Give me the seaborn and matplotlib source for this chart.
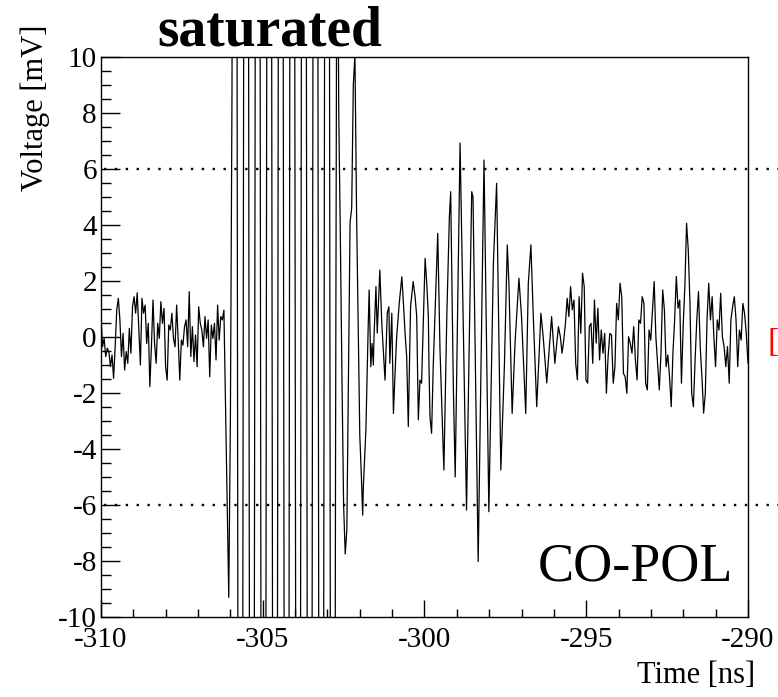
import numpy as np
import pandas as pd
import matplotlib
matplotlib.use("Agg")
import matplotlib.pyplot as plt
import seaborn as sns
from matplotlib.ticker import MultipleLocator, FuncFormatter

# --- waveform (mV) ---
# quiet baseline before the pulse, -310 .. -306.2 ns
pre_span = (-310.0, -306.2)
pre_mv = [0.73, -0.35, -0.05, -0.70, -0.40, -0.52, -1.06, -0.64, -1.48, -0.35,
          0.96, 1.38, 0.61, -0.70, 0.13, -1.18, -0.52, -0.94, 0.31, -0.58,
          1.08, 1.44, 0.85, 1.58, 0.25, -1.00, 1.38, 0.85, 1.14, -0.23,
          0.49, -1.77, -0.35, 1.32, -0.23, -0.94, 0.49, -0.05, 1.26, 0.49,
          1.02, -1.06, -1.54, 0.43, 0.25, 0.85, -0.05, -0.35, 1.14, -0.11,
          -1.54, -0.11, -0.29, 0.37, 0.61, -0.35, 1.62, -0.70, 0.37, -0.88,
          0.07, -1.06, 1.08, 0.49, 0.25, -0.35, 0.73, -0.05, 0.61, -1.42,
          0.43, -0.05, 0.49, -0.82, 1.14, -0.11, 0.73, 0.61, 0.96]

# saturated burst, -306.15 .. -302.00 ns (0.05 ns samples)
burst_span = (-306.15, -302.00)
burst_mv = [-2.4, -5.8, -9.3, -3.0, 8.8, 43.5, 46.7, 16.1, -26.1, -49.5,
            -36.8, 2.5, 40.0, 48.7, 21.7, -20.9, -48.4, -40.6, -3.7, 36.4,
            49.7, 26.8, -15.2, -46.3, -43.8, -9.7, 31.9, 50.0, 32.2, -9.0,
            -43.5, -46.6, -15.7, 26.9, 49.0, 36.9, -2.9, -40.1, -48.7, -21.6,
            21.0, 48.4, 40.6, 3.8, -36.3, -49.7, -26.8, 15.1, 46.2, 43.9,
            9.8, -31.8, -49.9, -32.3, 8.9, 43.5, 46.7, 15.9, -26.7, -49.0,
            -37.0, 1.8, 39.5, 48.8, 22.7, -19.8, -48.1, -41.3, -4.7, 20.0,
            8.0, 3.5, -1.5, -6.0, -7.75, -6.9, -1.5, 4.1, 4.6, 9.0,
            10.1, 4.5, 0.5, -3.5]

# ringing after the burst
ring_ns = [-301.95, -301.91, -301.89, -301.81, -301.74, -301.71, -301.66, -301.62,
           -301.58, -301.56, -301.50, -301.46, -301.38, -301.32, -301.22, -301.15,
           -301.10, -301.07, -301.01, -300.96, -300.91, -300.86, -300.78, -300.70,
           -300.65, -300.60, -300.55, -300.50, -300.43, -300.35, -300.29, -300.24,
           -300.19, -300.14, -300.09, -299.98, -299.93, -299.88, -299.86, -299.83,
           -299.78, -299.73, -299.64, -299.59, -299.52, -299.40, -299.31, -299.23,
           -299.19, -299.17, -299.11, -299.05, -298.90, -298.70, -298.54, -298.50,
           -298.34, -298.16, -298.01, -297.87, -297.77, -297.64, -297.53, -297.44,
           -297.39, -297.29, -297.20, -297.08, -297.00, -296.87, -296.79, -296.71,
           -296.64, -296.53, -296.40, -296.33, -296.22, -296.07, -295.97, -295.86]
ring_mv = [-5.0, -6.36, -5.35, -3.3, 0.37, 1.68, -1.06, -0.23,
           -1.0, 0.01, 1.80, 0.14, 2.39, 0.5, -1.54, 0.85,
           1.08, -0.94, 0.85, -2.73, -1.3, 0.0, 1.2, 2.15,
           1.2, 0.13, -0.7, -3.2, 1.08, 1.98, 1.44, 0.73,
           -2.96, -1.54, -1.65, 2.81, 1.92, 0.73, -1.06, -2.85,
           -3.44, -1.06, 2.03, 3.70, -0.46, -4.75, 0.73, 4.30,
           5.19, 3.46, -1.65, -5.0, 6.93, -6.18, 5.19, 5.0,
           -8.02, 6.32, -6.24, 2.63, 5.49, -4.75, -1.06, 3.29,
           1.92, -2.73, -0.2, 2.10, 0.73, -2.73, 1.92, 3.29,
           0.85, -2.49, 0.85, 0.0, -1.64, 0.73, -0.94, 0.37]

# noise tail, -295.80 .. -290 ns
tail_span = (-295.80, -290.0)
tail_mv = [0.01, -0.58, -0.11, 0.49, 1.38, 0.73, 1.80, 0.97, 1.32, -0.94,
           -1.53, 1.44, 0.13, 2.28, 1.80, -1.53, -1.65, 0.37, 0.49, -0.94,
           1.32, -0.22, 1.03, -0.82, 0.25, -0.58, 0.13, -2.01, -0.70, 0.13,
           0.07, -1.65, -1.06, 1.20, 0.61, 1.92, 1.44, -1.30, -1.42, -2.01,
           0.01, -0.22, -0.58, 0.37, -0.82, -1.53, 0.61, 0.49, 1.44,
           1.20, -1.65, -1.89, 0.25, -0.11, 0.97, 1.98, 0.01, -0.94, -1.89,
           -0.58, 1.68, 0.97, -1.06, -0.64, -1.42, -2.49, -0.58, 0.61, 2.16,
           1.03, 1.32, -1.65, 0.37, 1.80, 4.06, 3.11, 1.20, -2.01, -2.49,
           -0.82, 0.61, 1.62, -0.34, -1.42, -2.72, -2.01, 0.61, 1.92, 0.61,
           1.44, 0.01, -1.06, 0.61, 0.25, 1.56, 0.01, -0.34, -1.06, -0.34,
           -1.65, 0.61, 1.08, 1.44, 0.61, -1.06, 0.25, -0.11, 1.20, 0.84,
           0.13, -0.94]

threshold_mv = 6.0

# assemble one trace
t = np.concatenate([
    np.linspace(*pre_span, len(pre_mv)),
    np.linspace(*burst_span, len(burst_mv)),
    np.array(ring_ns),
    np.linspace(*tail_span, len(tail_mv)),
])
v = np.concatenate([pre_mv, burst_mv, ring_mv, tail_mv])
df = pd.DataFrame({"Time": t, "Voltage": v})

sns.set_theme(style="white")
plt.rcParams["font.family"] = ["Liberation Serif", "DejaVu Serif"]
plt.rcParams["axes.unicode_minus"] = False
plt.rcParams["text.color"] = "black"
plt.rcParams["xtick.color"] = "black"
plt.rcParams["ytick.color"] = "black"

fig = plt.figure(figsize=(7.78, 6.97), dpi=100)
ax = fig.add_axes([0.1298, 0.1148, 0.8316, 0.8034])

sns.lineplot(data=df, x="Time", y="Voltage", ax=ax, color="black",
             linewidth=0.9, estimator=None, sort=False)

# +/- threshold lines, run out past the frame
for lvl in (threshold_mv, -threshold_mv):
    ax.axhline(lvl, xmin=0.005, xmax=1.07, color="black", linewidth=1.7,
               linestyle=(0, (1, 3.6)), clip_on=False, zorder=3)

ax.set_xlim(-310, -290)
ax.set_ylim(-10, 10)
ax.set_xlabel("")
ax.set_ylabel("")

ax.xaxis.set_major_locator(MultipleLocator(5))
ax.xaxis.set_minor_locator(MultipleLocator(1))
ax.yaxis.set_major_locator(MultipleLocator(2))
ax.yaxis.set_minor_locator(MultipleLocator(0.5))
ax.xaxis.set_major_formatter(FuncFormatter(lambda x, p: f"{x:.0f}"))
ax.yaxis.set_major_formatter(FuncFormatter(lambda y, p: f"{y:.0f}"))

ax.tick_params(which="both", direction="in", left=True, bottom=True,
               top=False, right=False, width=1.0, colors="black",
               labelsize=21, labelcolor="black")
ax.tick_params(axis="y", which="major", length=14, pad=3)
ax.tick_params(axis="y", which="minor", length=7)
ax.tick_params(axis="x", which="major", length=12, pad=7)
ax.tick_params(axis="x", which="minor", length=6)

for s in ax.spines.values():
    s.set_color("black")
    s.set_linewidth(1.0)

# axis titles, ROOT style (end-aligned)
ax.text(-0.102, 1.057, "Voltage [mV]", transform=ax.transAxes, rotation=90,
        ha="center", va="top", fontsize=22, color="black")
ax.text(1.011, -0.104, "Time [ns]", transform=ax.transAxes,
        ha="right", va="center", fontsize=22, color="black")

ax.text(0.261, 1.021, "saturated", transform=ax.transAxes, ha="center",
        va="baseline", fontsize=40, fontweight="bold", color="black")
ax.text(0.977, 0.066, "CO-POL", transform=ax.transAxes, ha="right",
        va="baseline", fontsize=39, color="black")

# red label cut off at the right edge of the canvas
fig.text(768 / 778, 1 - 343 / 697, "[", color="red", ha="left",
         va="center", fontsize=24)

fig.savefig("out.png", dpi=100)
